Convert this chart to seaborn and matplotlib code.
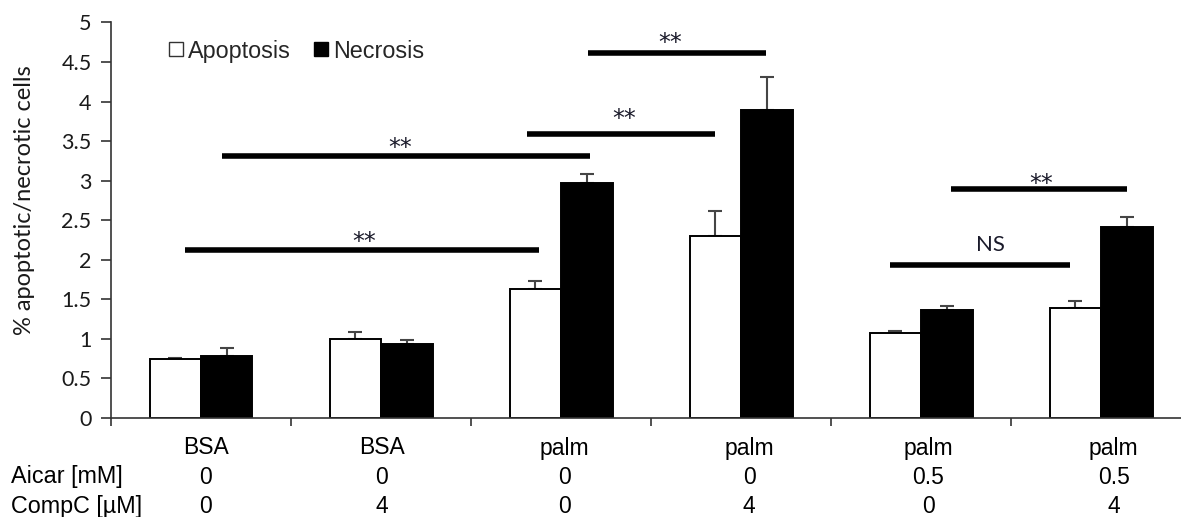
import matplotlib
matplotlib.use("Agg")
import matplotlib.pyplot as plt
import matplotlib.transforms as mtransforms
from matplotlib.patches import Patch
import numpy as np
import pandas as pd
import seaborn as sns

# ---- data ----
groups = ["g1", "g2", "g3", "g4", "g5", "g6"]
treatment = ["BSA", "BSA", "palm", "palm", "palm", "palm"]
aicar = ["0", "0", "0", "0", "0.5", "0.5"]
compc = ["0", "4", "0", "4", "0", "4"]
apoptosis = [0.75, 1.00, 1.63, 2.30, 1.08, 1.39]
apoptosis_err = [0.01, 0.09, 0.10, 0.32, 0.015, 0.09]
necrosis = [0.78, 0.93, 2.97, 3.90, 1.36, 2.41]
necrosis_err = [0.11, 0.06, 0.12, 0.41, 0.06, 0.13]

# significance brackets: start, end, height and label
sig_x0 = [-0.09, 0.115, 1.81, 2.15, 3.83, 4.165]
sig_x1 = [1.88, 2.16, 2.855, 3.14, 4.83, 5.145]
sig_y = [2.13, 3.31, 3.585, 4.62, 1.94, 2.89]
sig_label = ["**", "**", "**", "**", "NS", "**"]

sns.set_theme(style="white")
plt.rcParams["font.family"] = ["Lato", "DejaVu Sans"]

df = pd.DataFrame({
    "group": groups * 2,
    "value": apoptosis + necrosis,
    "kind": ["Apoptosis"] * 6 + ["Necrosis"] * 6,
})

fig = plt.figure(figsize=(11.81, 5.17), dpi=100)
ax = fig.add_axes([0.094, 0.1915, 0.9145, 0.765])

sns.barplot(data=df, x="group", y="value", hue="kind", order=groups,
            hue_order=["Apoptosis", "Necrosis"],
            palette={"Apoptosis": "white", "Necrosis": "black"},
            edgecolor="black", linewidth=1.4, width=0.572,
            errorbar=None, legend=False, ax=ax, zorder=2)

# upper error bars at each bar's centre
errs = apoptosis_err + necrosis_err
bars = ax.patches[:12]
xs = [b.get_x() + b.get_width() / 2 for b in bars]
hs = [b.get_height() for b in bars]
ax.errorbar(xs, hs, yerr=[np.zeros(len(errs)), errs], fmt="none",
            ecolor="#454545", elinewidth=1.5, capsize=5, capthick=1.5, zorder=1)

# significance bars with their labels
label_dx = [0.01, -0.03, 0.02, -0.04, 0.055, 0.01]      # label shift along x (data units)
label_dy = [0.13, 0.13, 0.23, 0.15, 0.25, 0.10]         # label height above the bar
for x0, x1, y, lab, dx, dy in zip(sig_x0, sig_x1, sig_y, sig_label, label_dx, label_dy):
    ax.plot([x0, x1], [y, y], color="black", lw=4, solid_capstyle="butt")
    xm = (x0 + x1) / 2 + dx
    if lab == "NS":
        ax.text(xm, y + dy, lab, ha="center", va="center",
                fontsize=16, family="Lato", color="#1a1a2a")
    else:
        ax.text(xm, y + dy, lab, ha="center", va="center_baseline",
                fontsize=17, family="DejaVu Sans", color="#1a1a2a")

ax.set_ylim(0, 5)
yt = np.arange(0, 5.01, 0.5)
ax.set_yticks(yt)
ax.set_yticklabels([f"{v:g}" for v in yt], fontsize=15.5, color="#1a1a1a")
ax.set_xlim(-0.5, 5.5)
ax.set_xticks(np.arange(-0.5, 5.6, 1.0))
ax.set_xticklabels([])
ax.set_xlabel("")
ax.set_ylabel("% apoptotic/necrotic cells", fontsize=17, color="#1a1a1a")
ax.yaxis.set_label_coords(-0.070, 0.55)
ax.tick_params(axis="y", direction="out", length=7, width=1.2, color="#333333",
               left=True, pad=7)
ax.tick_params(axis="x", direction="out", length=6, width=1.2, color="#333333",
               bottom=True)
for side in ["top", "right"]:
    ax.spines[side].set_visible(False)
for side in ["left", "bottom"]:
    ax.spines[side].set_color("#333333")
    ax.spines[side].set_linewidth(1.2)

# legend
handles = [Patch(facecolor="white", edgecolor="#333333", linewidth=1.0, label="Apoptosis"),
           Patch(facecolor="black", edgecolor="black", label="Necrosis")]
ax.legend(handles=handles, loc="upper left", bbox_to_anchor=(0.034, 1.01), ncol=2,
          frameon=False, handlelength=0.6, handleheight=0.55, handletextpad=0.22,
          columnspacing=1.0, prop={"family": "Liberation Sans", "size": 16.8})

# condition table below the axis
trans = mtransforms.blended_transform_factory(ax.transData, fig.transFigure)
col_x = [0.027, 1.005, 2.02, 3.045, 4.04, 5.07]
rows = [treatment, aicar, compc]
row_y = [1 - 448 / 517, 1 - 477 / 517, 1 - 506.5 / 517]
for vals, yy in zip(rows, row_y):
    for cx, v in zip(col_x, vals):
        ax.text(cx, yy, v, transform=trans, ha="center", va="center",
                fontsize=16.5, family="Liberation Sans", color="black")
fig.text(11 / 1181, row_y[1], "Aicar [mM]", ha="left", va="center", fontsize=16.8,
         family="Liberation Sans", color="black")
fig.text(11 / 1181, row_y[2], "CompC [\u00b5M]", ha="left", va="center", fontsize=16.8,
         family="Liberation Sans", color="black")

fig.savefig("out.png", dpi=100)
